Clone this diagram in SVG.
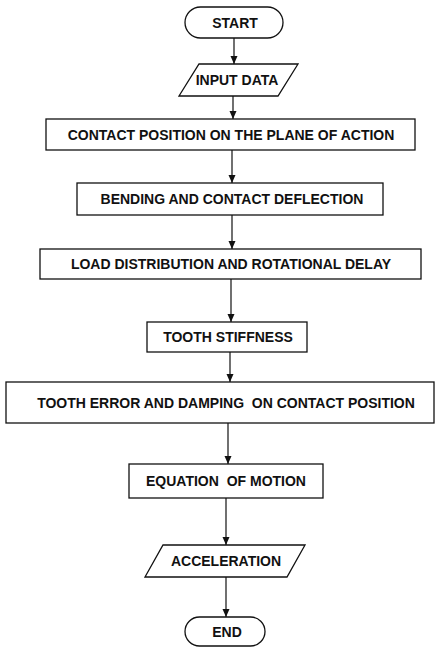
<svg xmlns="http://www.w3.org/2000/svg" width="440" height="648" viewBox="0 0 440 648">
<style>
.n{fill:#fff;stroke:#111;stroke-width:1.3}
.t{font-family:"Liberation Sans",Arial,sans-serif;font-weight:bold;font-size:14px;fill:#111;text-anchor:middle;white-space:pre}
.c{stroke:#111;stroke-width:1.2;fill:none;marker-end:url(#ah)}
</style>
<defs>
<marker id="ah" viewBox="0 0 8 10" refX="8" refY="5" markerWidth="8" markerHeight="10" markerUnits="userSpaceOnUse" orient="auto">
<path d="M0,1.5 L8,5 L0,8.5 Z" fill="#111"/>
</marker>
</defs>
<rect width="440" height="648" fill="#fff"/>
<g id="connectors">
<line class="c" x1="234" y1="38" x2="234" y2="64"/>
<line class="c" x1="233" y1="96" x2="233" y2="119"/>
<line class="c" x1="232" y1="150" x2="232" y2="183"/>
<line class="c" x1="232" y1="215" x2="232" y2="249"/>
<line class="c" x1="231" y1="279" x2="231" y2="322"/>
<line class="c" x1="230" y1="352" x2="230" y2="382"/>
<line class="c" x1="228" y1="423" x2="228" y2="464"/>
<line class="c" x1="226" y1="498" x2="226" y2="545"/>
<line class="c" x1="226" y1="577" x2="226" y2="617"/>
</g>
<g id="start">
<rect class="n" x="185" y="7" width="98" height="31" rx="15.5"/>
<text class="t" x="235" y="27.5">START</text>
</g>
<g id="input">
<polygon class="n" points="199,64 298,64 278,96 179,96"/>
<text class="t" x="237" y="85">INPUT DATA</text>
</g>
<g id="contact">
<rect class="n" x="46" y="119" width="369" height="31"/>
<text class="t" x="231" y="139.5">CONTACT POSITION ON THE PLANE OF ACTION</text>
</g>
<g id="bending">
<rect class="n" x="77" y="183" width="306" height="32"/>
<text class="t" x="232" y="204">BENDING AND CONTACT DEFLECTION</text>
</g>
<g id="load">
<rect class="n" x="40" y="249" width="381" height="30"/>
<text class="t" x="231" y="269">LOAD DISTRIBUTION AND ROTATIONAL DELAY</text>
</g>
<g id="stiffness">
<rect class="n" x="147" y="322" width="160" height="30"/>
<text class="t" x="228" y="342">TOOTH STIFFNESS</text>
</g>
<g id="error">
<rect class="n" x="6" y="382" width="428" height="41"/>
<text class="t" x="226" y="407.5">TOOTH ERROR AND DAMPING  ON CONTACT POSITION</text>
</g>
<g id="motion">
<rect class="n" x="129" y="464" width="194" height="34"/>
<text class="t" x="226" y="486">EQUATION  OF MOTION</text>
</g>
<g id="acceleration">
<polygon class="n" points="163,545 305,545 287,577 145,577"/>
<text class="t" x="226" y="566">ACCELERATION</text>
</g>
<g id="end">
<rect class="n" x="185" y="617" width="80" height="29" rx="14.5"/>
<text class="t" x="227" y="637">END</text>
</g>
</svg>
